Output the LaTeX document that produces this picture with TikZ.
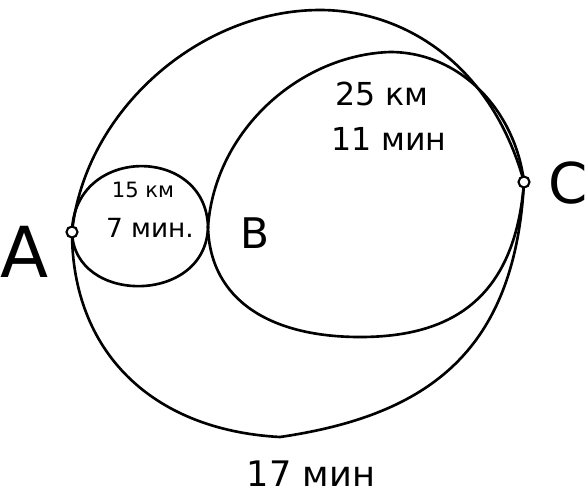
\documentclass[tikz,border=0pt]{standalone}
\usepackage{fontspec}
\setmainfont{DejaVu Sans}
\usepackage{tikz}
\usetikzlibrary{arrows.meta,calc,positioning}
\tikzset{
  route/.style = {line width=1.5pt, line cap=round, line join=round},
  odot/.style  = {circle, draw, line width=1.2pt, fill=white, inner sep=0pt, minimum size=2.2mm},
  lbl/.style   = {inner sep=0pt},
}
\newcommand{\fs}[1]{\fontsize{#1}{#1}\selectfont}

\begin{document}
\begin{tikzpicture}[x=0.2mm,y=-0.2mm]
  \useasboundingbox (0,0) rectangle (588,498);
  \coordinate (A) at (72,232);
  \coordinate (B) at (208,227);
  \coordinate (C) at (524,182);
  \coordinate (Ttop) at (320,10);
  \coordinate (Tbot) at (280,437);
  \coordinate (Mtop) at (390,52);
  \coordinate (Mbot) at (360,337);
  % outer loop A - C - A
  \draw[route] (A) .. controls (85,110) and (200,10) .. (Ttop)
                   .. controls (400,10) and (490,60) .. (C);
  \draw[route] (C) .. controls (515,350) and (430,415) .. (Tbot)
                   .. controls (150,430) and (72,350) .. (A);
  % B - C
  \draw[route] (B) .. controls (215,130) and (300,55) .. (Mtop)
                   .. controls (460,52) and (515,110) .. (C);
  \draw[route] (C) .. controls (515,300) and (450,337) .. (Mbot)
                   .. controls (270,337) and (210,300) .. (B);
  % A - B
  \draw[route] (A) .. controls (74,145) and (206,145) .. (B);
  \draw[route] (A) .. controls (74,305) and (206,305) .. (B);
  \node[odot] (Ad) at (A) {};
  \node[odot] (Cd) at (C) {};
  \node[lbl,font=\fs{40pt}] (la) at (25,252) {A};
  \node[lbl,font=\fs{24pt}] (lb) at (255,233) {B};
  \node[lbl,font=\fs{32pt}] (lc) at (568,183) {C};
  \node[lbl,font=\fs{18pt}] (d1) at (382,94) {25 км};
  \node[lbl,font=\fs{18pt}] (t1) at (389,139) {11 мин};
  \node[lbl,font=\fs{12pt}] (d2) at (143,190) {15 км};
  \node[lbl,font=\fs{15pt}] (t2) at (150,228) {7 мин.};
  \node[lbl,font=\fs{20pt}] (t3) at (311,474) {17 мин};
\end{tikzpicture}
\end{document}
